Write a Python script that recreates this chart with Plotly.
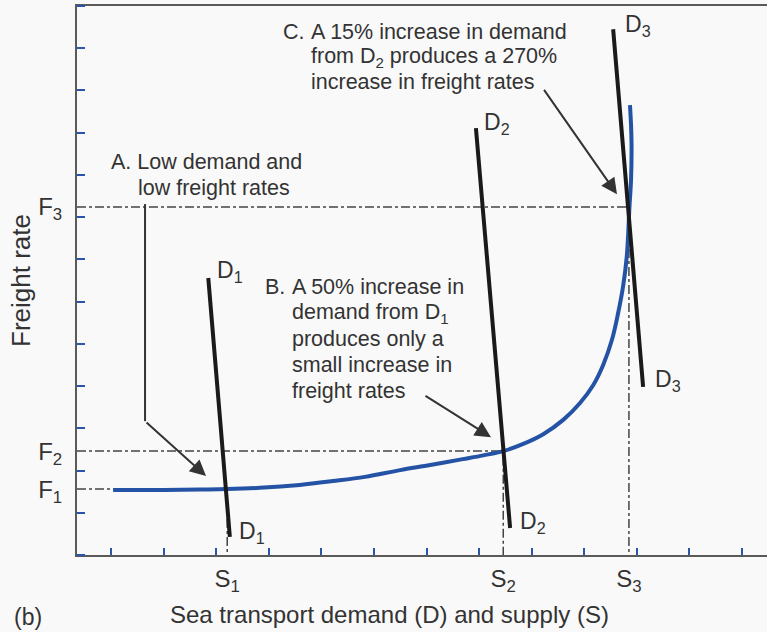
import plotly.graph_objects as go

# ---------------- data ----------------
# supply curve (sea transport capacity vs freight rate)
supply_x = [1.04, 1.93, 2.69, 3.21, 3.83, 4.59, 5.22, 5.83, 6.50, 7.07, 7.69,
            8.08, 8.46, 8.84, 9.22, 9.60, 9.92, 10.17, 10.36, 10.53, 10.64,
            10.74, 10.81, 10.86, 10.89, 10.90, 10.89, 10.87]
supply_y = [1.54, 1.54, 1.55, 1.56, 1.59, 1.66, 1.75, 1.85, 2.01, 2.13, 2.27,
            2.36, 2.46, 2.63, 2.86, 3.20, 3.60, 4.02, 4.50, 5.11, 5.70,
            6.37, 7.08, 8.24, 8.88, 9.66, 10.18, 10.65]

# demand lines: (top x, top y) -> (bottom x, bottom y)
demand_names = ["D1", "D2", "D3"]
demand_x = [[2.85, 3.26], [7.94, 8.59], [10.55, 11.12]]
demand_y = [[6.56, 0.43], [10.11, 0.64], [12.45, 3.98]]

# equilibrium points
S_vals = [3.21, 8.46, 10.85]
F_vals = [1.56, 2.46, 8.24]
S_labels = ["S<sub>1</sub>", "S<sub>2</sub>", "S<sub>3</sub>"]
F_labels = ["F<sub>1</sub>", "F<sub>2</sub>", "F<sub>3</sub>"]

X_RANGE = [0.353, 13.476]
Y_RANGE = [0.0, 13.0]

FONT = "Liberation Sans, Arial, Helvetica, sans-serif"
TXT = "#333333"
BLUE = "#2453a5"
TICKBLUE = "#2a55a8"
BG = "#f9f9f9"

fig = go.Figure()

# dash-dot guide lines
for s, f in zip(S_vals, F_vals):
    fig.add_trace(go.Scatter(
        x=[X_RANGE[0], s, s], y=[f, f, Y_RANGE[0]], mode="lines",
        line=dict(color="#444444", width=1.5, dash="9px,3px,3px,3px"),
        hoverinfo="skip", showlegend=False))

# supply curve
fig.add_trace(go.Scatter(
    x=supply_x, y=supply_y, mode="lines",
    line=dict(color=BLUE, width=4, shape="spline", smoothing=1.0),
    name="Supply", showlegend=False))

# demand lines
for name, dx, dy in zip(demand_names, demand_x, demand_y):
    fig.add_trace(go.Scatter(
        x=dx, y=dy, mode="lines", line=dict(color="#1a1a1a", width=4),
        name=name, showlegend=False))

# annotation A leader (vertical segment)
fig.add_trace(go.Scatter(
    x=[1.647, 1.647], y=[8.31, 3.17], mode="lines",
    line=dict(color="#333333", width=2), hoverinfo="skip", showlegend=False))

annotations = []


def txt(x, y, text, xanchor="left", size=21.5):
    annotations.append(dict(
        x=x, y=y, xref="x", yref="y", text=text, showarrow=False,
        xanchor=xanchor, yanchor="middle",
        font=dict(family=FONT, size=size, color=TXT)))


def arrow(x0, y0, x1, y1):
    annotations.append(dict(
        x=x1, y=y1, ax=x0, ay=y0, xref="x", yref="y", axref="x", ayref="y",
        text="", showarrow=True, arrowhead=2, arrowsize=1.6, arrowwidth=2,
        arrowcolor="#333333", standoff=0, startstandoff=0))


# A
txt(2.807, 9.30, "A. Low demand and", xanchor="center")
txt(2.959, 8.69, "low freight rates", xanchor="center")
arrow(1.647, 3.17, 2.807, 1.87)

# B
txt(3.891, 6.34, "B.")
b_lines = ["A 50% increase in", "demand from D<sub>1</sub>", "produces only a",
           "small increase in", "freight rates"]
b_y = [6.34, 5.73, 5.11, 4.50, 3.88]
for t, yy in zip(b_lines, b_y):
    txt(4.404, yy, t)
arrow(6.953, 3.79, 8.227, 2.79)

# C
txt(4.233, 12.38, "C.")
c_lines = ["A 15% increase in demand", "from D<sub>2</sub> produces a 270%",
           "increase in freight rates"]
c_y = [12.38, 11.79, 11.20]
for t, yy in zip(c_lines, c_y):
    txt(4.766, yy, t)
arrow(9.216, 11.05, 10.623, 8.54)

# D labels
d_lab_pos = [(2.978, 6.72), (3.396, 0.54), (8.056, 10.22), (8.741, 0.76),
             (10.737, 12.54), (11.308, 4.14)]
d_lab_txt = ["D<sub>1</sub>", "D<sub>1</sub>", "D<sub>2</sub>", "D<sub>2</sub>",
             "D<sub>3</sub>", "D<sub>3</sub>"]
for (x, y), t in zip(d_lab_pos, d_lab_txt):
    txt(x, y, t, size=23)

# x title and panel label
annotations.append(dict(
    x=0.4536, y=-0.109, xref="paper", yref="paper", showarrow=False,
    text="Sea transport demand (D) and supply (S)", xanchor="center",
    yanchor="middle", font=dict(family=FONT, size=24, color=TXT)))
annotations.append(dict(
    x=-0.071, y=-0.113, xref="paper", yref="paper", showarrow=False,
    text="(b)", xanchor="center", yanchor="middle",
    font=dict(family=FONT, size=23, color=TXT)))

fig.update_layout(
    width=767, height=632,
    margin=dict(l=77, r=0, t=6, b=77, autoexpand=False),
    paper_bgcolor=BG, plot_bgcolor=BG,
    font=dict(family=FONT, color=TXT),
    annotations=annotations,
    xaxis=dict(
        range=X_RANGE, showgrid=False, zeroline=False, automargin=False,
        showline=True, linecolor="#5a5a5a", linewidth=2, mirror=True,
        tickmode="array", tickvals=S_vals, ticktext=S_labels, ticks="",
        ticklabelstandoff=1,
        tickfont=dict(family=FONT, size=24, color=TXT),
        minor=dict(tickmode="linear", tick0=1, dtick=1, ticks="inside",
                   ticklen=7, tickwidth=2, tickcolor=TICKBLUE, showgrid=False),
    ),
    yaxis=dict(
        range=Y_RANGE, showgrid=False, zeroline=False, automargin=False,
        showline=True, linecolor="#5a5a5a", linewidth=2,
        tickmode="array", tickvals=F_vals, ticktext=F_labels, ticks="",
        ticklabelstandoff=8,
        tickfont=dict(family=FONT, size=24, color=TXT),
        title=dict(text="Freight rate", standoff=0,
                   font=dict(family=FONT, size=26, color=TXT)),
        minor=dict(tickmode="linear", tick0=1, dtick=1, ticks="inside",
                   ticklen=8, tickwidth=2, tickcolor=TICKBLUE, showgrid=False),
    ),
)

fig.write_html(
    "out.html",
    config={"displayModeBar": False},
    post_script="document.body.style.margin='0';"
                "document.body.style.background='" + BG + "';",
)
